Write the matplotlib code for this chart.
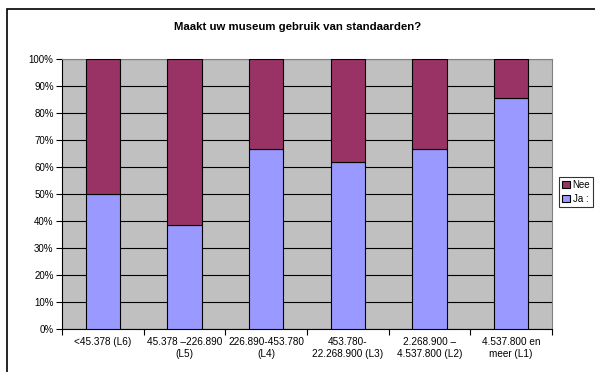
import matplotlib.pyplot as plt
from matplotlib.patches import Rectangle

# Data
categories = ["<45.378 (L6)", "45.378 \u2013226.890\n(L5)", "226.890-453.780\n(L4)",
              "453.780-\n22.268.900 (L3)", "2.268.900 \u2013\n4.537.800 (L2)",
              "4.537.800 en\nmeer (L1)"]
ja = [50.0, 38.5, 66.7, 62.0, 66.7, 85.7]
nee = [100 - v for v in ja]

plt.rcParams['font.family'] = ['Liberation Sans', 'DejaVu Sans']

fig = plt.figure(figsize=(5.95, 3.72), dpi=100)
ax = fig.add_axes([62 / 595, 43 / 372, 490 / 595, 270 / 372])

# outer chart frame (only top and left visible)
fig.patches.append(Rectangle((7 / 595, -0.1), 1.2, (363 / 372) + 0.1,
                             transform=fig.transFigure, fill=False,
                             edgecolor='black', linewidth=1.2))

x = list(range(len(categories)))
ax.set_facecolor('#C0C0C0')
ax.bar(x, ja, width=0.42, color='#9999FF', edgecolor='black', linewidth=0.8, label='Ja :', zorder=3)
ax.bar(x, nee, width=0.42, bottom=ja, color='#993366', edgecolor='black', linewidth=0.8, label='Nee', zorder=3)

ax.set_xlim(-0.5, len(categories) - 0.5)
ax.set_ylim(0, 100)
ax.set_yticks(range(0, 101, 10))
ax.set_yticklabels([f"{v}%" for v in range(0, 101, 10)], fontsize=7)
ax.yaxis.grid(True, color='black', linewidth=0.8, zorder=1)
ax.set_axisbelow(True)

ax.set_xticks([i + 0.5 for i in x[:-1]] + [-0.5, len(categories) - 0.5])
ax.set_xticklabels([])
ax.set_xticks(x, minor=True)
ax.set_xticklabels(categories, minor=True, fontsize=7.2)
ax.tick_params(axis='x', which='minor', length=0, pad=6)
ax.tick_params(axis='x', which='major', length=4, direction='out')
ax.tick_params(axis='y', length=4, pad=2)

for s in ['top', 'right']:
    ax.spines[s].set_color('#808080')
    ax.spines[s].set_linewidth(0.8)
for s in ['left', 'bottom']:
    ax.spines[s].set_color('black')
    ax.spines[s].set_linewidth(0.8)

fig.text(0.5, (372 - 27) / 372, "Maakt uw museum gebruik van standaarden?",
         ha='center', va='center', fontsize=8.2, fontweight='bold')

handles, labels = ax.get_legend_handles_labels()
leg = fig.legend(handles[::-1], labels[::-1], loc='upper left',
                 bbox_to_anchor=(559 / 595, (372 - 177) / 372),
                 fontsize=7, frameon=True, fancybox=False, edgecolor='black',
                 handlelength=0.8, handleheight=0.8, handletextpad=0.3,
                 borderpad=0.3, labelspacing=0.4, borderaxespad=0)
leg.get_frame().set_linewidth(0.8)

fig.savefig("out.png", dpi=100)
